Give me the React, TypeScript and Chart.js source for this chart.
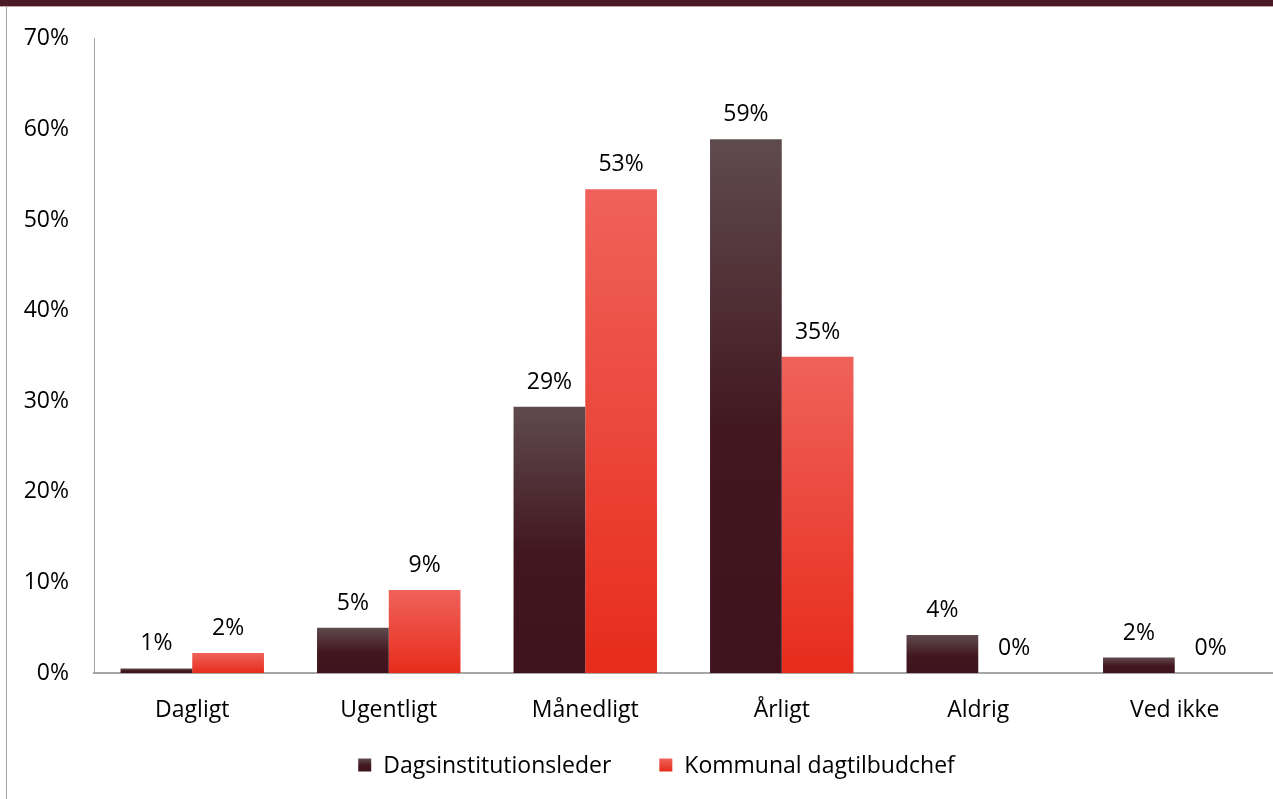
import React, { useEffect, useRef } from "react";
import { Chart, registerables } from "chart.js";

Chart.register(...registerables);

const categories = ["Dagligt", "Ugentligt", "Månedligt", "Årligt", "Aldrig", "Ved ikke"];
const seriesNames = ["Dagsinstitutionsleder", "Kommunal dagtilbudchef"];
const leaderValues = [0.5, 5.0, 29.4, 58.9, 4.2, 1.7];
const chiefValues = [2.2, 9.15, 53.4, 34.9, 0, 0];
const leaderLabels = ["1%", "5%", "29%", "59%", "4%", "2%"];
const chiefLabels = ["2%", "9%", "53%", "35%", "0%", "0%"];
const yTicks = [0, 10, 20, 30, 40, 50, 60, 70];

const FONT = "'Open Sans', sans-serif";
const FS = 23;

const darkStops: [number, string][] = [[0, "#5f4b4e"], [0.55, "#42171f"], [1, "#3e131d"]];
const redStops: [number, string][] = [[0, "#ef625b"], [1, "#e72c1b"]];
const seriesStops = [darkStops, redStops];
const seriesSolid = ["#4a2a31", "#ea4535"];
const seriesLabels = [leaderLabels, chiefLabels];

function makeGradient(c: CanvasRenderingContext2D, stops: [number, string][], top: number, bottom: number) {
  const g = c.createLinearGradient(0, top, 0, bottom);
  stops.forEach(([o, col]) => g.addColorStop(o, col));
  return g;
}

function gradientFill(di: number) {
  return (ctx: any) => {
    const chart = ctx.chart;
    if (ctx.type !== "data" || !chart.chartArea || !chart.scales.y) return seriesSolid[di];
    const v = ctx.raw as number;
    const yScale = chart.scales.y;
    const top = yScale.getPixelForValue(v);
    const base = yScale.getPixelForValue(0);
    if (base - top < 1) return seriesSolid[di];
    return makeGradient(chart.ctx, seriesStops[di], top, base);
  };
}

const valueLabels = {
  id: "valueLabels",
  afterDatasetsDraw(chart: any) {
    const { ctx } = chart;
    ctx.save();
    ctx.font = `${FS}px ${FONT}`;
    ctx.fillStyle = "#000";
    ctx.textAlign = "center";
    ctx.textBaseline = "alphabetic";
    chart.data.datasets.forEach((ds: any, di: number) => {
      const meta = chart.getDatasetMeta(di);
      meta.data.forEach((bar: any, i: number) => {
        ctx.fillText(seriesLabels[di][i], bar.x, bar.y - 18);
      });
    });
    ctx.restore();
  },
};

// Legend drawn below the axis labels, Excel-style (gradient boxes)
const bottomLegend = {
  id: "bottomLegend",
  afterDraw(chart: any) {
    const { ctx } = chart;
    const box = 13;
    const gapText = 12;
    const gapItems = 48;
    ctx.save();
    ctx.font = `${FS}px ${FONT}`;
    const names: string[] = chart.data.datasets.map((d: any) => d.label);
    const widths = names.map((n) => box + gapText + ctx.measureText(n).width);
    const total = widths.reduce((a, b) => a + b, 0) + gapItems * (names.length - 1);
    const center = chart.width / 2 + 20;
    const cy = chart.height - 34;
    let x = center - total / 2;
    names.forEach((n, i) => {
      const top = cy - box / 2;
      ctx.fillStyle = makeGradient(ctx, seriesStops[i], top, top + box);
      ctx.fillRect(x, top, box, box);
      ctx.fillStyle = "#000";
      ctx.textAlign = "left";
      ctx.textBaseline = "middle";
      ctx.fillText(n, x + box + gapText, cy + 1);
      x += widths[i] + gapItems;
    });
    ctx.restore();
  },
};

export default function App() {
  const ref = useRef<HTMLCanvasElement | null>(null);
  useEffect(() => {
    if (!ref.current) return;
    const chart = new Chart(ref.current, {
      type: "bar",
      data: {
        labels: categories,
        datasets: [
          {
            label: seriesNames[0],
            data: leaderValues,
            backgroundColor: gradientFill(0),
            borderWidth: 0,
            categoryPercentage: 0.73,
            barPercentage: 1,
          },
          {
            label: seriesNames[1],
            data: chiefValues,
            backgroundColor: gradientFill(1),
            borderWidth: 0,
            categoryPercentage: 0.73,
            barPercentage: 1,
          },
        ],
      },
      options: {
        animation: false,
        responsive: false,
        layout: { padding: { top: 38, left: 0, right: 0, bottom: 0 } },
        scales: {
          x: {
            grid: { display: false, drawTicks: false, tickLength: 0 },
            border: { display: true, color: "#a6a6a6", width: 2 },
            ticks: { color: "#000", font: { family: FONT, size: FS }, padding: 24, maxRotation: 0 },
            afterFit: (s: any) => { s.height = 126; },
          },
          y: {
            min: 0,
            max: 70,
            afterBuildTicks: (s: any) => { s.ticks = yTicks.map((v) => ({ value: v })); },
            grid: { display: false, drawTicks: false, tickLength: 0 },
            border: { display: true, color: "#a6a6a6", width: 1 },
            ticks: {
              color: "#000",
              font: { family: FONT, size: FS },
              padding: 25,
              callback: (v: any) => `${v}%`,
            },
            afterFit: (s: any) => { s.width = 94; },
          },
        },
        plugins: {
          legend: { display: false },
          tooltip: { enabled: false },
        },
      },
      plugins: [valueLabels, bottomLegend],
    });
    return () => chart.destroy();
  }, []);

  return (
    <div style={{ position: "fixed", left: 0, top: 0, width: 1273, height: 799, background: "#fff", overflow: "hidden" }}>
      <canvas ref={ref} width={1273} height={799} style={{ position: "absolute", left: 0, top: 0 }} />
      <div style={{ position: "absolute", left: 0, top: 0, width: 1273, height: 6, background: "#4a1b26" }} />
      <div style={{ position: "absolute", left: 0, top: 6, width: 1273, height: 1, background: "#b9a5a9" }} />
      <div style={{ position: "absolute", left: 6, top: 7, width: 1, height: 792, background: "#a6a6a6" }} />
    </div>
  );
}
